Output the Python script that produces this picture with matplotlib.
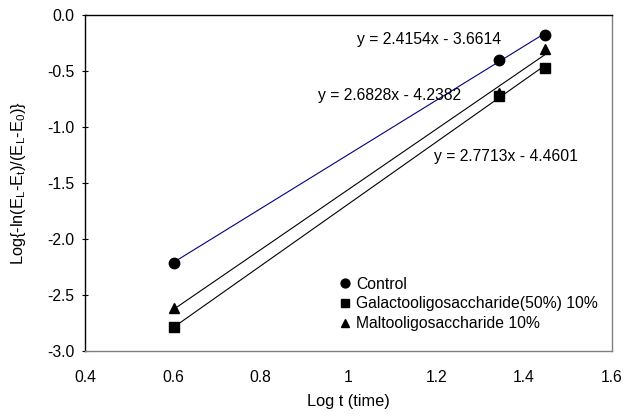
import numpy as np
import matplotlib.pyplot as plt

plt.rcParams['font.family'] = ['Liberation Sans', 'DejaVu Sans']

# data
log_t = [0.602, 1.342, 1.447]
control = [-2.21, -0.40, -0.18]
galacto = [-2.79, -0.72, -0.47]
malto = [-2.62, -0.70, -0.30]

labels = ['Control', 'Galactooligosaccharide(50%) 10%', 'Maltooligosaccharide 10%']
equations = ['y = 2.4154x - 3.6614', 'y = 2.6828x - 4.2382', 'y = 2.7713x - 4.4601']

fs = 11.3

fig = plt.figure(figsize=(6.24, 4.17), dpi=100)
ax = fig.add_axes([85 / 624, 66 / 417, 527 / 624, 336 / 417])

x = np.array(log_t)
series = [(control, 'o', '#000080'), (galacto, 's', 'black'), (malto, '^', 'black')]
for (vals, mk, lc), lab in zip(series, labels):
    # linear trendline over the data range
    k, b = np.polyfit(x, vals, 1)
    xs = np.array([x.min(), x.max()])
    ax.plot(xs, k * xs + b, color=lc, lw=0.8)
    ax.plot(x, vals, linestyle='none', marker=mk, color='black', markersize=7.5, label=lab)

ax.text(1.02, -0.22, equations[0], fontsize=fs, va='center')
ax.text(0.93, -0.72, equations[1], fontsize=fs, va='center')
ax.text(1.195, -1.26, equations[2], fontsize=fs, va='center')

ax.set_xlim(0.4, 1.6)
ax.set_ylim(-3.0, 0.0)
ax.set_xticks([0.4, 0.6, 0.8, 1.0, 1.2, 1.4, 1.6])
ax.set_xticklabels(['0.4', '0.6', '0.8', '1', '1.2', '1.4', '1.6'])
ax.set_yticks(np.arange(-3.0, 0.01, 0.5))
ax.set_yticklabels(['%.1f' % v for v in np.arange(-3.0, 0.01, 0.5)])
ax.tick_params(axis='x', length=0, labelsize=fs, pad=14)
ax.tick_params(axis='y', direction='inout', length=5, labelsize=fs, pad=5)

ax.set_xlabel('Log t (time)', fontsize=fs + 0.5, labelpad=6)
ax.set_ylabel('Log{-ln(E$_\\mathregular{L}$-E$_\\mathregular{t}$)/(E$_\\mathregular{L}$-E$_\\mathregular{0}$)}',
              fontsize=fs + 0.5, labelpad=14)

ax.spines['left'].set_color('black')
ax.spines['top'].set_color('black')
ax.spines['bottom'].set_color('#808080')
ax.spines['right'].set_color('#808080')
for s in ax.spines.values():
    s.set_linewidth(1.0)

ax.legend(loc='upper left', bbox_to_anchor=(0.47, 0.24), frameon=False,
          handlelength=0.8, handletextpad=0.3, labelspacing=0.3, fontsize=fs,
          markerscale=0.85, borderaxespad=0)

fig.savefig('out.png', dpi=100)
